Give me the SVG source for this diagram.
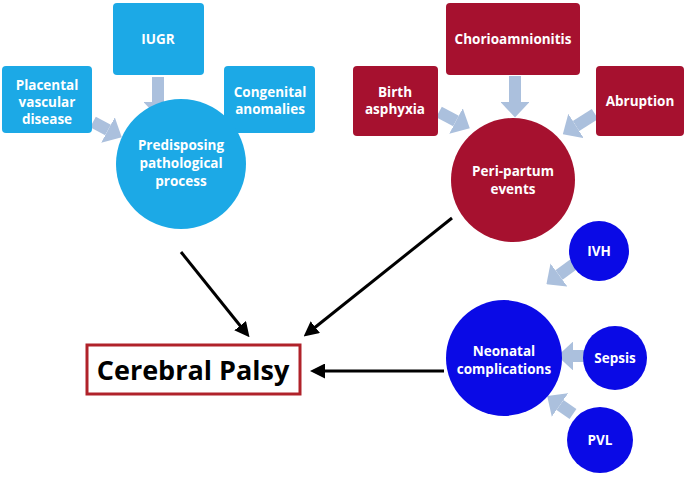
<svg xmlns="http://www.w3.org/2000/svg" width="688" height="477" viewBox="0 0 688 477">
<defs>
<marker id="fat" viewBox="0 0 10 10" refX="0" refY="5" markerWidth="1.3" markerHeight="2.4" markerUnits="strokeWidth" preserveAspectRatio="none" orient="auto"><path d="M0,0L10,5L0,10z" fill="#abc0dd"/></marker>
<marker id="blk" viewBox="0 0 10 10" refX="2" refY="5" markerWidth="5" markerHeight="5" markerUnits="strokeWidth" orient="auto"><path d="M0,0L10,5L0,10z" fill="#000"/></marker>
</defs>
<style>
.lb{fill:#1ca9e6}.rd{fill:#a6112f}.db{fill:#0a0ae6}
text{font-family:"Open Sans","Liberation Sans",sans-serif;font-weight:bold;fill:#fff;font-size:13.5px;text-anchor:middle}
.f{stroke:#abc0dd;stroke-width:12;marker-end:url(#fat);fill:none}
.b{stroke:#000;stroke-width:3;marker-end:url(#blk);fill:none}
</style>
<g id="connectors">
<line class="f" x1="158" y1="77" x2="158" y2="102"/>
<line class="f" x1="93" y1="122" x2="108" y2="130"/>
<line class="f" x1="224" y1="120" x2="211" y2="129"/>
<line class="f" x1="515" y1="76" x2="515" y2="102"/>
<line class="f" x1="439" y1="112" x2="456" y2="121"/>
<line class="f" x1="595" y1="114" x2="576" y2="126"/>
<line class="f" x1="574" y1="264" x2="559" y2="275"/>
<line class="f" x1="584" y1="356" x2="573" y2="356"/>
<line class="f" x1="573" y1="414" x2="560" y2="405"/>
<line class="b" x1="181" y1="252" x2="242" y2="328"/>
<line class="b" x1="452" y1="218" x2="313" y2="329"/>
<line class="b" x1="444" y1="371" x2="322" y2="371"/>
</g>
<g id="placental"><rect class="lb" x="2" y="66" width="90" height="67" rx="4"/><text x="47" y="90">Placental</text><text x="47" y="107">vascular</text><text x="47" y="124">disease</text></g>
<g id="iugr"><rect class="lb" x="113" y="3" width="91" height="72" rx="4"/><text x="158" y="44">IUGR</text></g>
<g id="congenital"><rect class="lb" x="224" y="66" width="91" height="67" rx="4"/><text x="270" y="97">Congenital</text><text x="270" y="114">anomalies</text></g>
<g id="predisposing"><circle class="lb" cx="181" cy="164" r="65"/><text x="181" y="150">Predisposing</text><text x="181" y="168">pathological</text><text x="181" y="186">process</text></g>
<g id="birth"><rect class="rd" x="353" y="66" width="85" height="70" rx="4"/><text x="395" y="97">Birth</text><text x="395" y="114">asphyxia</text></g>
<g id="chorio"><rect class="rd" x="446" y="3" width="134" height="72" rx="4"/><text x="513" y="44">Chorioamnionitis</text></g>
<g id="abruption"><rect class="rd" x="596" y="66" width="88" height="70" rx="4"/><text x="640" y="106">Abruption</text></g>
<g id="peripartum"><circle class="rd" cx="513" cy="180" r="62"/><text x="513" y="176">Peri-partum</text><text x="513" y="194">events</text></g>
<g id="ivh"><circle class="db" cx="599" cy="251" r="30"/><text x="599" y="256">IVH</text></g>
<g id="sepsis"><circle class="db" cx="615" cy="358" r="32"/><text x="615" y="363">Sepsis</text></g>
<g id="pvl"><circle class="db" cx="600" cy="440" r="33"/><text x="600" y="445">PVL</text></g>
<g id="neonatal"><circle class="db" cx="504" cy="358" r="58"/><text x="504" y="356">Neonatal</text><text x="504" y="374">complications</text></g>
<g id="cp"><rect x="87" y="345" width="213" height="49" fill="#fff" stroke="#b0222a" stroke-width="3"/><text x="193" y="380" style="fill:#000;font-size:27px">Cerebral Palsy</text></g>
</svg>
